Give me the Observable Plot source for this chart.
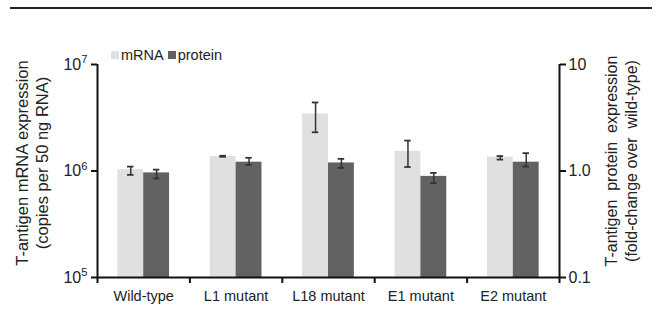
<!DOCTYPE html>
<html>
<head>
<meta charset="utf-8">
<script src="https://cdn.jsdelivr.net/npm/d3@7"></script>
<script src="https://cdn.jsdelivr.net/npm/@observablehq/plot@0.6"></script>
<style>
  html, body { margin: 0; padding: 0; background: #fff; }
  body { width: 661px; height: 333px; position: relative; overflow: hidden; font-family: "Liberation Sans", Arial, sans-serif; color: #222; }
  #rule { position: absolute; left: 10px; top: 7px; width: 642px; height: 2px; background: #222; }
  #legend { position: absolute; left: 111px; top: 47px; font-size: 14.5px; display: flex; align-items: center; }
  #legend .sw { display: inline-block; width: 8px; height: 8px; margin-right: 2px; }
  #legend .item { display: flex; align-items: center; margin-right: 4px; }
  #chart { position: absolute; left: 0; top: 0; }
</style>
</head>
<body>
<div id="rule"></div>
<div id="chart"></div>
<div id="legend"></div>
<script>
const categories = ["Wild-type", "L1 mutant", "L18 mutant", "E1 mutant", "E2 mutant"];
const seriesNames = ["mRNA", "protein"];
const seriesColors = ["#e0e0e0", "#626262"];
// mRNA copies per 50 ng RNA
const mrna   = [1.03e6, 1.37e6, 3.44e6, 1.53e6, 1.35e6];
const mrnaLo = [0.92e6, 1.36e6, 2.31e6, 1.09e6, 1.28e6];
const mrnaHi = [1.10e6, 1.39e6, 4.40e6, 1.93e6, 1.38e6];
// protein fold-change over wild-type
const protein   = [0.96, 1.21, 1.19, 0.89, 1.21];
const proteinLo = [0.85, 1.14, 1.07, 0.77, 1.10];
const proteinHi = [1.03, 1.33, 1.30, 0.96, 1.47];
const leftTicks = [1e5, 1e6, 1e7];
const leftTickExponents = ["5", "6", "7"];
const rightTicks = [0.1, 1, 10];
const rightTickLabels = ["0.1", "1.0", "10"];

// protein fold-change 1.0 aligns with 10^6 copies on the shared log scale
const PROTEIN_TO_MRNA = 1e6;
const barW = 0.28;
const capW = 0.035;

const rows = categories.map((c, i) => ({
  cat: c, i,
  mrna: mrna[i], mrnaLo: mrnaLo[i], mrnaHi: mrnaHi[i],
  protein: protein[i] * PROTEIN_TO_MRNA,
  proteinLo: proteinLo[i] * PROTEIN_TO_MRNA,
  proteinHi: proteinHi[i] * PROTEIN_TO_MRNA
}));

const mC = d => d.i + 0.5 - barW / 2;
const pC = d => d.i + 0.5 + barW / 2;
const errColor = "#333";
const rightTickPos = rightTicks.map(v => v * PROTEIN_TO_MRNA);

const chart = Plot.plot({
  width: 661,
  height: 333,
  marginTop: 64,
  marginBottom: 56,
  marginLeft: 97,
  marginRight: 102,
  style: { fontFamily: "'Liberation Sans', Arial, sans-serif", color: "#222", background: "transparent" },
  x: { type: "linear", domain: [0, categories.length], axis: null },
  y: { type: "log", domain: [1e5, 1e7], axis: null },
  marks: [
    Plot.rect(rows, { x1: d => d.i + 0.5 - barW, x2: d => d.i + 0.5, y1: 1e5, y2: "mrna", fill: seriesColors[0] }),
    Plot.rect(rows, { x1: d => d.i + 0.5, x2: d => d.i + 0.5 + barW, y1: 1e5, y2: "protein", fill: seriesColors[1] }),
    // error bars
    Plot.ruleX(rows, { x: mC, y1: "mrnaLo", y2: "mrnaHi", stroke: errColor, strokeWidth: 1.5 }),
    Plot.ruleY(rows, { y: "mrnaLo", x1: d => mC(d) - capW, x2: d => mC(d) + capW, stroke: errColor, strokeWidth: 1.8 }),
    Plot.ruleY(rows, { y: "mrnaHi", x1: d => mC(d) - capW, x2: d => mC(d) + capW, stroke: errColor, strokeWidth: 1.8 }),
    Plot.ruleX(rows, { x: pC, y1: "proteinLo", y2: "proteinHi", stroke: errColor, strokeWidth: 1.5 }),
    Plot.ruleY(rows, { y: "proteinLo", x1: d => pC(d) - capW, x2: d => pC(d) + capW, stroke: errColor, strokeWidth: 1.8 }),
    Plot.ruleY(rows, { y: "proteinHi", x1: d => pC(d) - capW, x2: d => pC(d) + capW, stroke: errColor, strokeWidth: 1.8 }),
    // axis lines
    Plot.ruleX([0, categories.length], { y1: 1e5, y2: 1e7, stroke: "#111", strokeWidth: 2 }),
    Plot.ruleY([1e5], { x1: 0, x2: categories.length, stroke: "#111", strokeWidth: 2 }),
    // left axis
    Plot.axisY({ anchor: "left", ticks: leftTicks, tickSize: 6, tickPadding: 4, fontSize: 16, label: null,
      tickFormat: d => "10^" + leftTickExponents[leftTicks.indexOf(d)], stroke: "#111", strokeWidth: 2 }),
    // right axis
    Plot.axisY({ anchor: "right", ticks: rightTickPos, tickSize: 6, tickPadding: 3, fontSize: 16, label: null,
      tickFormat: d => rightTickLabels[rightTickPos.indexOf(d)], stroke: "#111", strokeWidth: 2 }),
    // x tick marks between groups
    Plot.axisX({ ticks: d3.range(categories.length + 1), tickSize: 6, tickFormat: () => "", label: null, stroke: "#111", strokeWidth: 2 }),
    // category labels
    Plot.axisX({ ticks: categories.map((c, i) => i + 0.5), tickSize: 0, tickPadding: 13, fontSize: 14.5, label: null,
      tickFormat: d => categories[Math.round(d - 0.5)] })
  ]
});

document.getElementById("chart").appendChild(chart);
const svg = d3.select(chart);

// superscript exponents on the left tick labels
svg.selectAll("text").each(function () {
  const t = d3.select(this);
  const s = t.text();
  const m = /^10\^(\d)$/.exec(s);
  if (!m) return;
  t.text("");
  t.append("tspan").text("10");
  t.append("tspan").attr("font-size", "0.7em").attr("dy", "-0.55em").text(m[1]);
});

// y-axis titles (two lines each, rotated)
const titles = [
  { x: 22, y: 163, size: 16.5, gap: 20, lines: ["T-antigen mRNA expression", "(copies per 50 ng RNA)"] },
  { x: 611, y: 161, size: 16, gap: 20, lines: ["T-antigen  protein  expression", "(fold-change over  wild-type)"] }
];
titles.forEach(t => {
  const g = svg.append("g").attr("transform", `translate(${t.x},${t.y}) rotate(-90)`);
  t.lines.forEach((l, k) => {
    g.append("text").attr("x", 0).attr("y", k * t.gap).attr("dy", "0.35em")
      .attr("text-anchor", "middle").attr("font-size", t.size).attr("fill", "#222")
      .style("white-space", "pre").text(l);
  });
});

// legend
const legend = d3.select("#legend");
seriesNames.forEach((s, k) => {
  const it = legend.append("span").attr("class", "item");
  it.append("span").attr("class", "sw").style("background", seriesColors[k]);
  it.append("span").text(s);
});
</script>
</body>
</html>
